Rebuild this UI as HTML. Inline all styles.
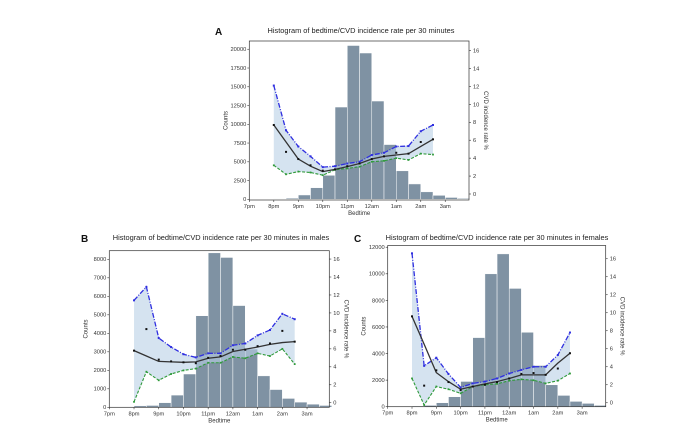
<!DOCTYPE html>
<html><head><meta charset="utf-8">
<style>
html,body{margin:0;padding:0;background:#fff;}
svg{display:block;font-family:"Liberation Sans","DejaVu Sans",sans-serif;}
</style></head>
<body>
<svg id="fig" width="700" height="434" viewBox="0 0 700 434" xmlns="http://www.w3.org/2000/svg"></svg>
<script>
// ---- Panel data (counts per 30-min bin from 7pm; rates in % at 8pm..2:30am) ----
const binLabels = ["7:00pm","7:30pm","8:00pm","8:30pm","9:00pm","9:30pm","10:00pm","10:30pm","11:00pm","11:30pm","12:00am","12:30am","1:00am","1:30am","2:00am","2:30am","3:00am","3:30am"];
const xTickLabels = ["7pm","8pm","9pm","10pm","11pm","12am","1am","2am","3am"];
const rateHours = [1,1.5,2,2.5,3,3.5,4,4.5,5,5.5,6,6.5,7,7.5];

const countsA = [0,0,50,150,580,1550,3200,12300,20500,19500,13100,7300,3800,2050,1000,530,250,120];
const upperA = [12.1,7.1,5.3,4.2,3.0,3.1,3.4,3.6,4.35,4.6,5.3,5.35,7.0,7.7];
const smoothA = [7.7,5.8,3.9,3.1,2.5,2.75,3.05,3.4,3.9,4.2,4.35,4.5,5.3,6.1];
const rawA = [7.7,4.7,3.9,3.2,2.6,2.75,3.1,3.4,3.9,4.2,4.6,4.5,5.8,6.1];
const lowerA = [3.2,2.2,2.5,2.4,2.1,2.7,2.85,3.05,3.6,3.7,4.0,3.8,4.5,4.4];

const countsB = [0,30,80,100,250,660,1800,4950,8350,8100,5500,3150,1700,960,480,280,170,100];
const upperB = [11.4,12.9,7.2,6.2,5.4,5.05,5.5,5.5,6.4,6.6,7.5,8.1,9.9,9.3];
const smoothB = [5.8,5.2,4.6,4.55,4.5,4.55,4.95,5.1,5.7,5.95,6.2,6.5,6.7,6.8];
const rawB = [5.8,8.2,4.8,4.6,4.5,4.4,5.0,5.2,5.9,5.9,6.3,6.6,8.0,6.8];
const lowerB = [0.1,3.45,2.5,3.2,3.6,3.8,4.45,4.45,5.1,4.95,5.5,5.2,6.0,4.3];

const countsC = [0,0,50,100,300,750,1900,5200,10000,11500,8900,5600,3100,1650,850,400,250,100];
const upperC = [16.6,4.1,5.0,3.2,1.7,2.15,2.35,2.7,3.25,3.65,4.0,4.0,5.3,7.8];
const smoothC = [9.6,6.5,3.35,2.35,1.5,1.8,2.1,2.35,2.7,3.1,3.1,3.1,4.4,5.5];
const rawC = [9.6,1.9,3.6,2.3,1.4,1.8,2.0,2.3,2.7,3.2,3.3,3.1,3.8,5.5];
const lowerC = [2.7,-0.25,1.8,1.5,1.05,1.8,2.0,2.1,2.45,2.6,2.5,2.15,2.45,3.25];

const leftTicksA = [0,2500,5000,7500,10000,12500,15000,17500,20000];
const leftTicksB = [0,1000,2000,3000,4000,5000,6000,7000,8000];
const leftTicksC = [0,2000,4000,6000,8000,10000,12000];
const rightTicks = [0,2,4,6,8,10,12,14,16];

const NS="http://www.w3.org/2000/svg";
const svg=document.getElementById('fig');
function mk(tag,attrs,parent){const e=document.createElementNS(NS,tag);for(const k in attrs)e.setAttribute(k,attrs[k]);(parent||svg).appendChild(e);return e;}

function panel(o){
  const g=mk('g',{});
  
  
  const xs=h=>o.L+(h-o.xmin)/(o.xmax-o.xmin)*(o.R-o.L);
  const yl=v=>o.B-(v-o.yl0)/(o.yl1-o.yl0)*(o.B-o.T);
  const yr=v=>o.B-(v-o.yr0)/(o.yr1-o.yr0)*(o.B-o.T);
  o.counts.forEach((c,i)=>{
    const x0=xs(i*0.5),x1=xs(i*0.5+0.5);
    const r=mk('rect',{x:x0,y:yl(c),width:x1-x0,height:Math.max(0,yl(0)-yl(c)),fill:'#72879a',stroke:'#ffffff','stroke-width':0.5,opacity:0.9},g);
    
    
  });
  let d='';
  rateHours.forEach((h,i)=>{d+=(i?'L':'M')+xs(h)+','+yr(o.upper[i]);});
  for(let i=rateHours.length-1;i>=0;i--)d+='L'+xs(rateHours[i])+','+yr(o.lower[i]);
  const band=mk('path',{d:d+'Z',fill:'#b9d0e6','fill-opacity':0.6,stroke:'none'},g);
  
  
  function line(arr,col,dash,w,nm,mr){
    const p=mk('polyline',{points:rateHours.map((h,i)=>xs(h)+','+yr(arr[i])).join(' '),fill:'none',stroke:col,'stroke-width':w,'stroke-dasharray':dash},g);
    
    
    rateHours.forEach((h,i)=>{
      const m=mk('rect',{x:xs(h)-mr,y:yr(arr[i])-mr,width:2*mr,height:2*mr,fill:col},g);
      
      
    });
  }
  line(o.upper,'#2f2fe0','5,1.5,1,1.5',1.3,'upper-line',1);
  line(o.lower,'#2f9a3a','3,1.5',1.1,'lower-line',0.9);
  line(o.smooth,'#333333','',1.3,'smooth-line',0);
  o.raw.forEach((v,i)=>{
    const c=mk('rect',{x:xs(rateHours[i])-1,y:yr(v)-1,width:2,height:2,fill:'#111'},g);
    
    
  });
  const f=mk('rect',{x:o.L,y:o.T,width:o.R-o.L,height:o.B-o.T,fill:'none',stroke:'#333','stroke-width':0.7},g);
  
  
  const ts='font-size:5.7px;fill:#333';
  o.lticks.forEach(v=>{
    mk('line',{x1:o.L-2,x2:o.L,y1:yl(v),y2:yl(v),stroke:'#333','stroke-width':0.6},g);
    const t=mk('text',{x:o.L-3,y:yl(v)+1.9,'text-anchor':'end',style:ts},g);t.textContent=v;
    
    
  });
  rightTicks.forEach(v=>{
    mk('line',{x1:o.R,x2:o.R+2,y1:yr(v),y2:yr(v),stroke:'#333','stroke-width':0.6},g);
    const t=mk('text',{x:o.R+4,y:yr(v)+1.9,style:ts},g);t.textContent=v;
    
    
  });
  xTickLabels.forEach((lab,i)=>{
    mk('line',{x1:xs(i),x2:xs(i),y1:o.B,y2:o.B+2,stroke:'#333','stroke-width':0.6},g);
    const t=mk('text',{x:xs(i),y:o.B+8,'text-anchor':'middle',style:ts},g);t.textContent=lab;
    
    
  });
  const xl=mk('text',{x:(o.L+o.R)/2,y:o.B+15,'text-anchor':'middle',style:'font-size:6px;fill:#333'},g);xl.textContent='Bedtime';
  
  
  const cy=(o.T+o.B)/2;
  const ylab=mk('text',{x:o.L-22,y:cy,'text-anchor':'middle',transform:`rotate(-90 ${o.L-22} ${cy})`,style:'font-size:6px;fill:#333'},g);ylab.textContent='Counts';
  
  
  const rlab=mk('text',{x:o.R+15,y:cy,'text-anchor':'middle',transform:`rotate(90 ${o.R+15} ${cy})`,style:'font-size:6px;fill:#333'},g);rlab.textContent='CVD incidence rate %';
  
  
  const ti=mk('text',{x:o.tx,y:o.ty,'text-anchor':'middle',style:'font-size:7.4px;fill:#222'},g);ti.textContent=o.title;
  
  
  const lt=mk('text',{x:o.lx,y:o.ly,style:'font-size:10px;font-weight:bold;fill:#111'},g);lt.textContent=o.letter;
  
  
}

panel({name:'panel-a',letter:'A',lx:215,ly:35,title:'Histogram of bedtime/CVD incidence rate per 30 minutes',tx:361,ty:33,
  L:249.3,R:469,T:41,B:200,xmin:0,xmax:8.97,yl0:-90,yl1:21100,yr0:-0.67,yr1:17.07,
  counts:countsA,upper:upperA,smooth:smoothA,raw:rawA,lower:lowerA,lticks:leftTicksA});
panel({name:'panel-b',letter:'B',lx:81,ly:242,title:'Histogram of bedtime/CVD incidence rate per 30 minutes in males',tx:221,ty:240,
  L:109.3,R:329.3,T:250.7,B:407.3,xmin:0,xmax:8.9,yl0:0,yl1:8465,yr0:-0.51,yr1:16.93,
  counts:countsB,upper:upperB,smooth:smoothB,raw:rawB,lower:lowerB,lticks:leftTicksB});
panel({name:'panel-c',letter:'C',lx:354,ly:242,title:'Histogram of bedtime/CVD incidence rate per 30 minutes in females',tx:497,ty:240,
  L:387.7,R:605.7,T:245.5,B:406.7,xmin:0,xmax:8.97,yl0:0,yl1:12130,yr0:-0.44,yr1:17.47,
  counts:countsC,upper:upperC,smooth:smoothC,raw:rawC,lower:lowerC,lticks:leftTicksC});
</script>
</body></html>
